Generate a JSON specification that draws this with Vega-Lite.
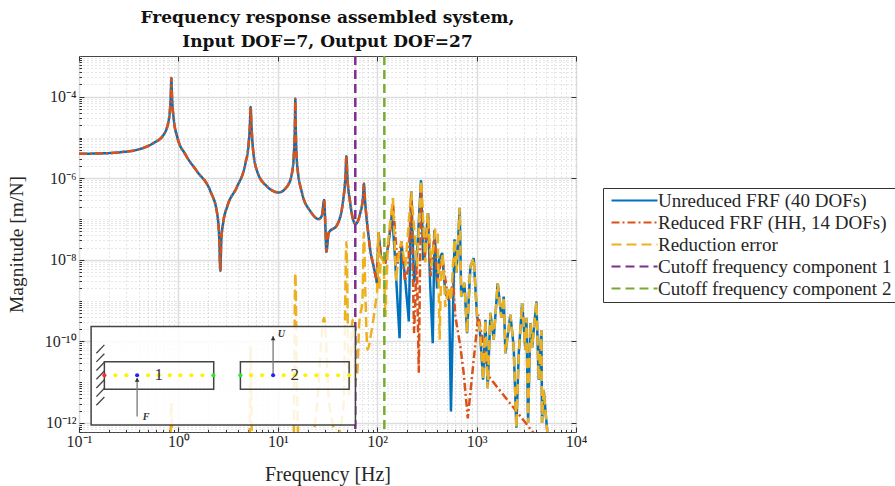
{"$schema":"https://vega.github.io/schema/vega-lite/v6.json","width":497,"height":376,"autosize":{"type":"none"},"padding":{"left":79,"top":56,"right":319,"bottom":54},"background":"white","config":{"view":{"stroke":"#444444","strokeWidth":1},"font":"Liberation Serif","legend":{"title":null,"orient":"none","legendX":524,"legendY":132,"labelFont":"Liberation Serif","labelFontSize":19,"labelColor":"#262626","labelLimit":400,"labelOffset":33,"symbolType":"M-4,0H42","symbolSize":4,"symbolStrokeWidth":2,"symbolFillColor":"transparent","rowPadding":2,"padding":3,"fillColor":"white","strokeColor":"#333333"}},"title":{"text":["Frequency response assembled system,","Input DOF=7, Output DOF=27"],"font":"DejaVu Serif","fontWeight":"bold","fontSize":17,"lineHeight":24,"color":"#111111","anchor":"middle","offset":5},"resolve":{"axis":{"x":"independent","y":"independent"}},"datasets":{"one":[{"f":1,"m":1e-6}],
"curves":[
{"s":"U","f":0.1,"m":4.0e-6},{"s":"U","f":0.177,"m":4.1e-6},{"s":"U","f":0.27,"m":4.4e-6},{"s":"U","f":0.384,"m":5e-6},{"s":"U","f":0.56,"m":7.3e-6},{"s":"U","f":0.71,"m":1.17e-5},{"s":"U","f":0.8,"m":2.7e-5},{"s":"U","f":0.84,"m":1.2e-4},{"s":"U","f":0.85,"m":2.9e-4},{"s":"U","f":0.86,"m":1.2e-4},{"s":"U","f":0.9,"m":2.7e-5},{"s":"U","f":0.97,"m":1.07e-5},{"s":"U","f":1.18,"m":3.8e-6},{"s":"U","f":1.54,"m":1.48e-6},{"s":"U","f":2.1,"m":4.8e-7},{"s":"U","f":2.45,"m":1.4e-7},{"s":"U","f":2.58,"m":3e-8},{"s":"U","f":2.64,"m":5.4e-9},{"s":"U","f":2.7,"m":3e-8},{"s":"U","f":2.82,"m":8.1e-8},{"s":"U","f":3.09,"m":2e-7},{"s":"U","f":3.9,"m":6.3e-7},{"s":"U","f":4.72,"m":2.3e-6},{"s":"U","f":5.1,"m":7.4e-6},{"s":"U","f":5.25,"m":2.2e-5},{"s":"U","f":5.33,"m":5.6e-5},{"s":"U","f":5.42,"m":2.2e-5},{"s":"U","f":5.6,"m":6e-6},{"s":"U","f":6.2,"m":1.48e-6},{"s":"U","f":7.8,"m":6.3e-7},{"s":"U","f":10.2,"m":4.5e-7},{"s":"U","f":12.4,"m":6.3e-7},{"s":"U","f":13.9,"m":1.35e-6},{"s":"U","f":14.7,"m":7.4e-6},{"s":"U","f":14.9,"m":3e-5},{"s":"U","f":15,"m":8.9e-5},{"s":"U","f":15.1,"m":3e-5},{"s":"U","f":15.6,"m":2.4e-6},{"s":"U","f":17.5,"m":4.4e-7},{"s":"U","f":21.3,"m":1.55e-7},{"s":"U","f":25.8,"m":1e-7},{"s":"U","f":27.9,"m":1.26e-7},{"s":"U","f":29.2,"m":2.95e-7},{"s":"U","f":30.2,"m":5.5e-8},{"s":"U","f":30.8,"m":1.58e-8},{"s":"U","f":32.5,"m":4.6e-8},{"s":"U","f":39.5,"m":7.2e-8},{"s":"U","f":45.5,"m":2.95e-7},{"s":"U","f":48,"m":1.2e-6},{"s":"U","f":49,"m":3.5e-6},{"s":"U","f":50,"m":1.2e-6},{"s":"U","f":53,"m":2.95e-7},{"s":"U","f":60.5,"m":7.6e-8},{"s":"U","f":67.5,"m":1.4e-7},{"s":"U","f":72,"m":3.5e-7},{"s":"U","f":73.5,"m":7.4e-7},{"s":"U","f":75,"m":3.5e-7},{"s":"U","f":82,"m":3.7e-8},{"s":"U","f":85,"m":1.8e-8},{"s":"U","f":92,"m":7e-9},{"s":"U","f":99.6,"m":2.7e-9},{"s":"U","f":103,"m":4.8e-8},{"s":"U","f":109,"m":1.2e-8},{"s":"U","f":121,"m":9e-9},{"s":"U","f":130,"m":2.5e-8},{"s":"U","f":141,"m":1.4e-7},{"s":"U","f":150,"m":1.5e-8},{"s":"U","f":168,"m":1.2e-10},{"s":"U","f":175,"m":2.8e-8},{"s":"U","f":190,"m":3.9e-9},{"s":"U","f":208,"m":3.1e-10},{"s":"U","f":220,"m":4.8e-7},{"s":"U","f":235,"m":2.8e-9},{"s":"U","f":250,"m":1e-8},{"s":"U","f":276,"m":9e-7},{"s":"U","f":290,"m":1e-8},{"s":"U","f":300,"m":1.2e-8},{"s":"U","f":325,"m":1.4e-7},{"s":"U","f":340,"m":3e-9},{"s":"U","f":362,"m":9e-11},{"s":"U","f":378,"m":5.5e-8},{"s":"U","f":400,"m":2e-9},{"s":"U","f":420,"m":1e-8},{"s":"U","f":450,"m":1.48e-8},{"s":"U","f":485,"m":1.5e-9},{"s":"U","f":530,"m":1e-9},{"s":"U","f":552,"m":1.9e-12},{"s":"U","f":600,"m":3.2e-8},{"s":"U","f":628,"m":4.8e-9},{"s":"U","f":676,"m":1.9e-7},{"s":"U","f":700,"m":1.26e-9},{"s":"U","f":754,"m":2.75e-9},{"s":"U","f":802,"m":1.6e-10},{"s":"U","f":866,"m":6.9e-9},{"s":"U","f":935,"m":1.1e-8},{"s":"U","f":1011,"m":4.1e-10},{"s":"U","f":1074,"m":2.3e-10},{"s":"U","f":1162,"m":1.15e-11},{"s":"U","f":1227,"m":3.4e-10},{"s":"U","f":1293,"m":7.1e-12},{"s":"U","f":1377,"m":5e-10},{"s":"U","f":1486,"m":1.1e-10},{"s":"U","f":1631,"m":2.7e-9},{"s":"U","f":1777,"m":3.8e-10},{"s":"U","f":1875,"m":1.26e-9},{"s":"U","f":1949,"m":5.1e-11},{"s":"U","f":2188,"m":4.5e-10},{"s":"U","f":2360,"m":7.4e-11},{"s":"U","f":2512,"m":7.6e-13},{"s":"U","f":2654,"m":5.1e-11},{"s":"U","f":2871,"m":8.7e-10},{"s":"U","f":3097,"m":6.3e-11},{"s":"U","f":3170,"m":3.8e-10},{"s":"U","f":3296,"m":1e-12},{"s":"U","f":3475,"m":2.8e-10},{"s":"U","f":3614,"m":6.9e-11},{"s":"U","f":3999,"m":9.5e-10},{"s":"U","f":4217,"m":1.15e-11},{"s":"U","f":4487,"m":1.9e-10},{"s":"U","f":4550,"m":1e-12},{"s":"U","f":4732,"m":6.5e-12},{"s":"U","f":5190,"m":4.6e-13},
{"s":"R","f":0.1,"m":4.0e-6},{"s":"R","f":0.177,"m":4.1e-6},{"s":"R","f":0.27,"m":4.4e-6},{"s":"R","f":0.384,"m":5e-6},{"s":"R","f":0.56,"m":7.3e-6},{"s":"R","f":0.71,"m":1.17e-5},{"s":"R","f":0.8,"m":2.7e-5},{"s":"R","f":0.84,"m":1.2e-4},{"s":"R","f":0.85,"m":2.9e-4},{"s":"R","f":0.86,"m":1.2e-4},{"s":"R","f":0.9,"m":2.7e-5},{"s":"R","f":0.97,"m":1.07e-5},{"s":"R","f":1.18,"m":3.8e-6},{"s":"R","f":1.54,"m":1.48e-6},{"s":"R","f":2.1,"m":4.8e-7},{"s":"R","f":2.45,"m":1.4e-7},{"s":"R","f":2.58,"m":3e-8},{"s":"R","f":2.64,"m":5.4e-9},{"s":"R","f":2.7,"m":3e-8},{"s":"R","f":2.82,"m":8.1e-8},{"s":"R","f":3.09,"m":2e-7},{"s":"R","f":3.9,"m":6.3e-7},{"s":"R","f":4.72,"m":2.3e-6},{"s":"R","f":5.1,"m":7.4e-6},{"s":"R","f":5.25,"m":2.2e-5},{"s":"R","f":5.33,"m":5.6e-5},{"s":"R","f":5.42,"m":2.2e-5},{"s":"R","f":5.6,"m":6e-6},{"s":"R","f":6.2,"m":1.48e-6},{"s":"R","f":7.8,"m":6.3e-7},{"s":"R","f":10.2,"m":4.5e-7},{"s":"R","f":12.4,"m":6.3e-7},{"s":"R","f":13.9,"m":1.35e-6},{"s":"R","f":14.7,"m":7.4e-6},{"s":"R","f":14.9,"m":3e-5},{"s":"R","f":15,"m":8.9e-5},{"s":"R","f":15.1,"m":3e-5},{"s":"R","f":15.6,"m":2.4e-6},{"s":"R","f":17.5,"m":4.4e-7},{"s":"R","f":21.3,"m":1.55e-7},{"s":"R","f":25.8,"m":1e-7},{"s":"R","f":27.9,"m":1.26e-7},{"s":"R","f":29.2,"m":2.95e-7},{"s":"R","f":30.2,"m":5.5e-8},{"s":"R","f":30.8,"m":1.58e-8},{"s":"R","f":32.5,"m":4.6e-8},{"s":"R","f":39.5,"m":7.2e-8},{"s":"R","f":45.5,"m":2.95e-7},{"s":"R","f":48,"m":1.2e-6},{"s":"R","f":49,"m":3.5e-6},{"s":"R","f":50,"m":1.2e-6},{"s":"R","f":53,"m":2.95e-7},{"s":"R","f":60.5,"m":7.6e-8},{"s":"R","f":67.5,"m":1.4e-7},{"s":"R","f":72,"m":3.5e-7},{"s":"R","f":73.5,"m":7.4e-7},{"s":"R","f":75,"m":3.5e-7},{"s":"R","f":82,"m":3.7e-8},{"s":"R","f":85,"m":1.8e-8},{"s":"R","f":92,"m":7e-9},{"s":"R","f":99.6,"m":2.7e-9},{"s":"R","f":103,"m":4.8e-8},{"s":"R","f":109,"m":1.2e-8},{"s":"R","f":121,"m":9e-9},{"s":"R","f":130,"m":2.5e-8},{"s":"R","f":144,"m":2.5e-7},{"s":"R","f":160,"m":8e-9},{"s":"R","f":175,"m":2.8e-8},{"s":"R","f":190,"m":3e-9},{"s":"R","f":205,"m":6e-9},{"s":"R","f":220,"m":3.5e-7},{"s":"R","f":235,"m":1.6e-10},{"s":"R","f":250,"m":1e-8},{"s":"R","f":262,"m":1.7e-11},{"s":"R","f":276,"m":8e-7},{"s":"R","f":300,"m":1e-8},{"s":"R","f":325,"m":1.2e-7},{"s":"R","f":345,"m":4e-9},{"s":"R","f":378,"m":5e-8},{"s":"R","f":400,"m":3e-9},{"s":"R","f":450,"m":1.2e-8},{"s":"R","f":520,"m":1e-9},{"s":"R","f":580,"m":2.7e-9},{"s":"R","f":612,"m":4.1e-10},{"s":"R","f":687,"m":7.4e-11},{"s":"R","f":741,"m":1.7e-11},{"s":"R","f":815,"m":1.3e-12},{"s":"R","f":1040,"m":4.5e-10},{"s":"R","f":1320,"m":1.4e-11},{"s":"R","f":3900,"m":5e-13},{"s":"R","f":5190,"m":2e-13},
{"s":"E","f":0.5,"m":3e-13},{"s":"E","f":0.83,"m":4e-13},{"s":"E","f":0.85,"m":3.2e-12},{"s":"E","f":0.87,"m":4e-13},{"s":"E","f":5.2,"m":3e-13},{"s":"E","f":5.33,"m":7.4e-11},{"s":"E","f":5.5,"m":3e-13},{"s":"E","f":14.4,"m":3e-13},{"s":"E","f":15,"m":4.8e-9},{"s":"E","f":15.6,"m":8e-12},{"s":"E","f":16.2,"m":3e-13},{"s":"E","f":22,"m":4e-13},{"s":"E","f":24.5,"m":2e-12},{"s":"E","f":29.2,"m":3.8e-10},{"s":"E","f":33,"m":2.8e-12},{"s":"E","f":40,"m":5e-13},{"s":"E","f":46,"m":3e-12},{"s":"E","f":49,"m":2.75e-8},{"s":"E","f":52,"m":4.9e-12},{"s":"E","f":56.5,"m":3.4e-10},{"s":"E","f":60,"m":1.1e-11},{"s":"E","f":63,"m":1.7e-11},{"s":"E","f":66,"m":2.8e-10},{"s":"E","f":71,"m":1e-9},{"s":"E","f":73.5,"m":4.6e-8},{"s":"E","f":76,"m":1.6e-9},{"s":"E","f":80,"m":6.3e-11},{"s":"E","f":88,"m":1.9e-10},{"s":"E","f":99.6,"m":1.6e-9},{"s":"E","f":103,"m":4.8e-8},{"s":"E","f":105,"m":1.8e-9},{"s":"E","f":109,"m":1.2e-8},{"s":"E","f":116,"m":9e-9},{"s":"E","f":121,"m":4e-10},{"s":"E","f":128,"m":2.5e-8},{"s":"E","f":144,"m":3.3e-7},{"s":"E","f":155,"m":3e-9},{"s":"E","f":165,"m":1.48e-8},{"s":"E","f":175,"m":2.8e-8},{"s":"E","f":192,"m":6.9e-9},{"s":"E","f":220,"m":4.8e-7},{"s":"E","f":252,"m":6.9e-9},{"s":"E","f":276,"m":9e-7},{"s":"E","f":305,"m":8.6e-9},{"s":"E","f":322,"m":1.4e-7},{"s":"E","f":351,"m":6.9e-9},{"s":"E","f":385,"m":5.5e-8},{"s":"E","f":406,"m":5e-8},{"s":"E","f":425,"m":1.1e-10},{"s":"E","f":440,"m":5.6e-9},{"s":"E","f":456,"m":1.48e-8},{"s":"E","f":485,"m":7e-10},{"s":"E","f":524,"m":2.2e-9},{"s":"E","f":552,"m":1e-9},{"s":"E","f":600,"m":3.2e-8},{"s":"E","f":628,"m":4.8e-9},{"s":"E","f":676,"m":1.9e-7},{"s":"E","f":700,"m":1.26e-9},{"s":"E","f":754,"m":2.75e-9},{"s":"E","f":802,"m":1.6e-10},{"s":"E","f":866,"m":6.9e-9},{"s":"E","f":935,"m":1.1e-8},{"s":"E","f":1011,"m":4.1e-10},{"s":"E","f":1074,"m":2.3e-10},{"s":"E","f":1162,"m":1.15e-11},{"s":"E","f":1227,"m":3.4e-10},{"s":"E","f":1293,"m":7.1e-12},{"s":"E","f":1377,"m":5e-10},{"s":"E","f":1486,"m":1.1e-10},{"s":"E","f":1631,"m":2.7e-9},{"s":"E","f":1777,"m":3.8e-10},{"s":"E","f":1875,"m":1.26e-9},{"s":"E","f":1949,"m":5.1e-11},{"s":"E","f":2188,"m":4.5e-10},{"s":"E","f":2360,"m":7.4e-11},{"s":"E","f":2512,"m":7.6e-13},{"s":"E","f":2654,"m":5.1e-11},{"s":"E","f":2871,"m":8.7e-10},{"s":"E","f":3097,"m":6.3e-11},{"s":"E","f":3170,"m":3.8e-10},{"s":"E","f":3296,"m":1e-12},{"s":"E","f":3475,"m":2.8e-10},{"s":"E","f":3614,"m":6.9e-11},{"s":"E","f":3999,"m":9.5e-10},{"s":"E","f":4217,"m":1.15e-11},{"s":"E","f":4487,"m":1.9e-10},{"s":"E","f":4550,"m":1e-12},{"s":"E","f":4732,"m":6.5e-12},{"s":"E","f":5190,"m":4.6e-13},
{"s":"C1","f":60.2,"m":1e-3},{"s":"C1","f":60.2,"m":6e-13},{"s":"C2","f":118,"m":1e-3},{"s":"C2","f":118,"m":6e-13}
]},
"layer":[
{"data":{"name":"one"},"mark":{"type":"point","opacity":0},"encoding":{"x":{"field":"f","type":"quantitative","scale":{"type":"log","domain":[0.1,10000],"nice":false},"axis":{"orient":"bottom","values":[0.2,0.3,0.4,0.5,0.6,0.7,0.8,0.9,2,3,4,5,6,7,8,9,20,30,40,50,60,70,80,90,200,300,400,500,600,700,800,900,2000,3000,4000,5000,6000,7000,8000,9000],"labels":false,"domain":false,"title":null,"grid":true,"gridColor":"#8a8a8a","gridOpacity":0.42,"gridDash":[1,3],"gridWidth":1,"tickSize":-2.5,"tickColor":"#333333","zindex":0}},"y":{"field":"m","type":"quantitative","scale":{"type":"log","domain":[6e-13,1e-3],"nice":false},"axis":{"orient":"left","values":[2e-13,3e-13,4e-13,5e-13,6e-13,7e-13,8e-13,9e-13,2e-12,3e-12,4e-12,5e-12,6e-12,7e-12,8e-12,9e-12,1e-11,2e-11,3e-11,4e-11,5e-11,6e-11,7e-11,8e-11,9e-11,2e-10,3e-10,4e-10,5e-10,6e-10,7e-10,8e-10,9e-10,1e-9,2e-9,3e-9,4e-9,5e-9,6e-9,7e-9,8e-9,9e-9,2e-8,3e-8,4e-8,5e-8,6e-8,7e-8,8e-8,9e-8,1e-7,2e-7,3e-7,4e-7,5e-7,6e-7,7e-7,8e-7,9e-7,2e-6,3e-6,4e-6,5e-6,6e-6,7e-6,8e-6,9e-6,1e-5,2e-5,3e-5,4e-5,5e-5,6e-5,7e-5,8e-5,9e-5,2e-4,3e-4,4e-4,5e-4,6e-4,7e-4,8e-4,9e-4],"labels":false,"domain":false,"title":null,"grid":true,"gridColor":"#8a8a8a","gridOpacity":0.42,"gridDash":[1,3],"gridWidth":1,"tickSize":-2.5,"tickColor":"#333333","zindex":0}}}},
{"data":{"name":"one"},"mark":{"type":"point","opacity":0},"encoding":{"x":{"field":"f","type":"quantitative","scale":{"type":"log","domain":[0.1,10000],"nice":false},"axis":{"orient":"bottom","values":[0.1,1,10,100,1000,10000],"labelExpr":"['10⁻¹','10⁰','10¹','10²','10³','10⁴'][round(log(datum.value)/LN10)+1]","labelFont":"Liberation Serif","labelFontSize":16,"labelColor":"#262626","labelPadding":6,"domain":false,"title":"Frequency [Hz]","titleFont":"Liberation Serif","titleFontSize":20,"titleFontWeight":"normal","titleColor":"#262626","titlePadding":15,"grid":true,"gridColor":"#dddddd","gridWidth":1.5,"tickSize":-5,"tickColor":"#333333","zindex":0,"labelBound":false,"labelFlush":false}},"y":{"field":"m","type":"quantitative","scale":{"type":"log","domain":[6e-13,1e-3],"nice":false},"axis":{"orient":"left","values":[1e-12,1e-10,1e-8,1e-6,1e-4],"labelExpr":"{'-12':'10⁻¹²','-10':'10⁻¹⁰','-8':'10⁻⁸','-6':'10⁻⁶','-4':'10⁻⁴'}[''+round(log(datum.value)/LN10)]","labelFont":"Liberation Serif","labelFontSize":16,"labelColor":"#262626","labelPadding":8,"domain":false,"title":"Magnitude [m/N]","titleFont":"Liberation Serif","titleFontSize":19.5,"titleFontWeight":"normal","titleColor":"#262626","titlePadding":18,"grid":true,"gridColor":"#dddddd","gridWidth":1.5,"tickSize":-5,"tickColor":"#333333","zindex":0}}}},
{"data":{"name":"one"},"mark":{"type":"point","opacity":0},"encoding":{"x":{"field":"f","type":"quantitative","scale":{"type":"log","domain":[0.1,10000],"nice":false},"axis":{"orient":"top","values":[0.1,1,10,100,1000,10000],"labels":false,"domain":false,"title":null,"grid":false,"tickSize":-5,"tickColor":"#333333"}},"y":{"field":"m","type":"quantitative","scale":{"type":"log","domain":[6e-13,1e-3],"nice":false},"axis":{"orient":"right","values":[1e-12,1e-10,1e-8,1e-6,1e-4],"labels":false,"domain":false,"title":null,"grid":false,"tickSize":-5,"tickColor":"#333333"}}}},
{"data":{"name":"curves"},"transform":[{"filter":"datum.f>=99.6 && datum.s[0]!='C'"}],"mark":{"type":"line","strokeWidth":2.5,"clip":true,"interpolate":"linear"},"encoding":{"x":{"field":"f","type":"quantitative","scale":{"type":"log","domain":[0.1,10000],"nice":false},"axis":null},"y":{"field":"m","type":"quantitative","scale":{"type":"log","domain":[6e-13,1e-3],"nice":false},"axis":null},"color":{"field":"s","type":"nominal","scale":{"domain":["U","R","E","C1","C2"],"range":["#0072BD","#D95319","#EDB120","#7E2F8E","#77AC30"]},"legend":{"labelExpr":"{'U':'Unreduced FRF (40 DOFs)','R':'Reduced FRF (HH, 14 DOFs)','E':'Reduction error','C1':'Cutoff frequency component 1','C2':'Cutoff frequency component 2'}[datum.label]"}},"strokeDash":{"field":"s","type":"nominal","scale":{"domain":["U","R","E","C1","C2"],"range":[[1,0],[8,3,2,3],[10,5],[9,5],[9,5]]},"legend":{"labelExpr":"{'U':'Unreduced FRF (40 DOFs)','R':'Reduced FRF (HH, 14 DOFs)','E':'Reduction error','C1':'Cutoff frequency component 1','C2':'Cutoff frequency component 2'}[datum.label]"}}}},
{"data":{"name":"curves"},"transform":[{"filter":"datum.f<=99.6 || datum.s[0]=='C'"}],"mark":{"type":"line","strokeWidth":2.5,"clip":true,"interpolate":"monotone"},"encoding":{"x":{"field":"f","type":"quantitative","scale":{"type":"log","domain":[0.1,10000],"nice":false},"axis":null},"y":{"field":"m","type":"quantitative","scale":{"type":"log","domain":[6e-13,1e-3],"nice":false},"axis":null},"color":{"field":"s","type":"nominal","scale":{"domain":["U","R","E","C1","C2"],"range":["#0072BD","#D95319","#EDB120","#7E2F8E","#77AC30"]},"legend":{"labelExpr":"{'U':'Unreduced FRF (40 DOFs)','R':'Reduced FRF (HH, 14 DOFs)','E':'Reduction error','C1':'Cutoff frequency component 1','C2':'Cutoff frequency component 2'}[datum.label]"}},"strokeDash":{"field":"s","type":"nominal","scale":{"domain":["U","R","E","C1","C2"],"range":[[1,0],[8,3,2,3],[10,5],[9,5],[9,5]]},"legend":{"labelExpr":"{'U':'Unreduced FRF (40 DOFs)','R':'Reduced FRF (HH, 14 DOFs)','E':'Reduction error','C1':'Cutoff frequency component 1','C2':'Cutoff frequency component 2'}[datum.label]"}}}},
{"data":{"values":[{"a":0.1324,"b":60.4,"c":2.31e-10,"d":8.93e-13}]},"mark":{"type":"rect","fill":"white","fillOpacity":0.86,"stroke":"#444444","strokeWidth":1.5},"encoding":{"x":{"field":"a","type":"quantitative","scale":{"type":"log","domain":[0.1,10000],"nice":false},"axis":null},"x2":{"field":"b"},"y":{"field":"c","type":"quantitative","scale":{"type":"log","domain":[6e-13,1e-3],"nice":false},"axis":null},"y2":{"field":"d"}}},
{"data":{"values":[{"a":0.18,"b":2.266,"c":3.19e-11,"d":6.71e-12},{"a":4.205,"b":52.2,"c":3.19e-11,"d":6.71e-12}]},"mark":{"type":"rect","filled":false,"stroke":"#444444","strokeWidth":1.5},"encoding":{"x":{"field":"a","type":"quantitative","scale":{"type":"log","domain":[0.1,10000],"nice":false},"axis":null},"x2":{"field":"b"},"y":{"field":"c","type":"quantitative","scale":{"type":"log","domain":[6e-13,1e-3],"nice":false},"axis":null},"y2":{"field":"d"}}},
{"data":{"values":[{"a":0.18,"b":0.1496,"c":8.2e-11,"d":5.13e-11},{"a":0.18,"b":0.1496,"c":5.0e-11,"d":3.14e-11},{"a":0.18,"b":0.1496,"c":3.07e-11,"d":1.93e-11},{"a":0.18,"b":0.1496,"c":1.88e-11,"d":1.18e-11},{"a":0.18,"b":0.1496,"c":1.15e-11,"d":7.2e-12},{"a":0.18,"b":0.1496,"c":7.07e-12,"d":4.43e-12},{"a":0.18,"b":0.1496,"c":4.33e-12,"d":2.71e-12}]},"mark":{"type":"rule","color":"#444444","strokeWidth":1.3},"encoding":{"x":{"field":"a","type":"quantitative","scale":{"type":"log","domain":[0.1,10000],"nice":false},"axis":null},"x2":{"field":"b"},"y":{"field":"c","type":"quantitative","scale":{"type":"log","domain":[6e-13,1e-3],"nice":false},"axis":null},"y2":{"field":"d"}}},
{"data":{"values":[{"a":0.3842,"c":1.43e-12,"d":1.25e-11},{"a":8.968,"c":1.48e-11,"d":1.36e-10}]},"mark":{"type":"rule","color":"#777777","strokeWidth":1.3},"encoding":{"x":{"field":"a","type":"quantitative","scale":{"type":"log","domain":[0.1,10000],"nice":false},"axis":null},"y":{"field":"c","type":"quantitative","scale":{"type":"log","domain":[6e-13,1e-3],"nice":false},"axis":null},"y2":{"field":"d"}}},
{"data":{"values":[{"a":0.3842,"c":1.15e-11},{"a":8.968,"c":1.2e-10}]},"mark":{"type":"point","shape":"triangle-up","filled":true,"color":"#333333","size":22,"opacity":1},"encoding":{"x":{"field":"a","type":"quantitative","scale":{"type":"log","domain":[0.1,10000],"nice":false},"axis":null},"y":{"field":"c","type":"quantitative","scale":{"type":"log","domain":[6e-13,1e-3],"nice":false},"axis":null}}},
{"data":{"values":[{"a":0.2323},{"a":0.2998},{"a":0.4957},{"a":0.6337},{"a":0.8176},{"a":1.047},{"a":1.351},{"a":1.743},{"a":5.389},{"a":6.951},{"a":11.47},{"a":14.79},{"a":18.96},{"a":24.45},{"a":31.33},{"a":40.42},{"a":52.16}]},"mark":{"type":"point","shape":"circle","filled":true,"size":17,"opacity":1,"color":"#FFF200"},"encoding":{"x":{"field":"a","type":"quantitative","scale":{"type":"log","domain":[0.1,10000],"nice":false},"axis":null},"y":{"datum":1.48e-11,"type":"quantitative","scale":{"type":"log","domain":[6e-13,1e-3],"nice":false},"axis":null}}},
{"data":{"values":[{"a":0.18}]},"mark":{"type":"point","shape":"circle","filled":true,"size":17,"opacity":1,"color":"#FF2A2A"},"encoding":{"x":{"field":"a","type":"quantitative","scale":{"type":"log","domain":[0.1,10000],"nice":false},"axis":null},"y":{"datum":1.48e-11,"type":"quantitative","scale":{"type":"log","domain":[6e-13,1e-3],"nice":false},"axis":null}}},
{"data":{"values":[{"a":2.249},{"a":4.205}]},"mark":{"type":"point","shape":"circle","filled":true,"size":17,"opacity":1,"color":"#22EE22"},"encoding":{"x":{"field":"a","type":"quantitative","scale":{"type":"log","domain":[0.1,10000],"nice":false},"axis":null},"y":{"datum":1.48e-11,"type":"quantitative","scale":{"type":"log","domain":[6e-13,1e-3],"nice":false},"axis":null}}},
{"data":{"values":[{"a":0.3842},{"a":8.968}]},"mark":{"type":"point","shape":"circle","filled":true,"size":17,"opacity":1,"color":"#2222FF"},"encoding":{"x":{"field":"a","type":"quantitative","scale":{"type":"log","domain":[0.1,10000],"nice":false},"axis":null},"y":{"datum":1.48e-11,"type":"quantitative","scale":{"type":"log","domain":[6e-13,1e-3],"nice":false},"axis":null}}},
{"data":{"values":[{"a":0.6337,"c":1.48e-11,"t":"1"},{"a":14.79,"c":1.48e-11,"t":"2"}]},"mark":{"type":"text","font":"Liberation Serif","fontSize":17,"color":"#333333"},"encoding":{"x":{"field":"a","type":"quantitative","scale":{"type":"log","domain":[0.1,10000],"nice":false},"axis":null},"y":{"field":"c","type":"quantitative","scale":{"type":"log","domain":[6e-13,1e-3],"nice":false},"axis":null},"text":{"field":"t"}}},
{"data":{"values":[{"a":0.473,"c":1.43e-12,"t":"F"},{"a":10.87,"c":1.53e-10,"t":"U"}]},"mark":{"type":"text","font":"Liberation Serif","fontSize":10,"fontStyle":"italic","fontWeight":"bold","color":"#333333"},"encoding":{"x":{"field":"a","type":"quantitative","scale":{"type":"log","domain":[0.1,10000],"nice":false},"axis":null},"y":{"field":"c","type":"quantitative","scale":{"type":"log","domain":[6e-13,1e-3],"nice":false},"axis":null},"text":{"field":"t"}}}
]}
